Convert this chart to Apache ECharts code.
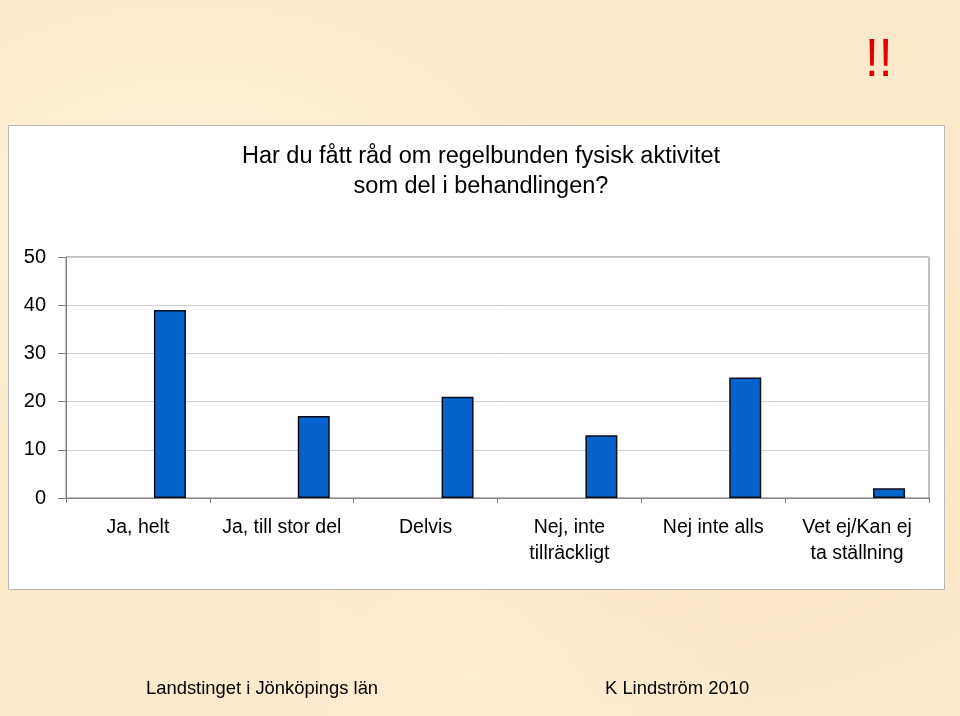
<!DOCTYPE html>
<html>
<head>
<meta charset="utf-8">
<script src="https://cdn.jsdelivr.net/npm/echarts@6/dist/echarts.min.js"></script>
<style>
html,body{margin:0;padding:0;}
body{width:960px;height:716px;background:#FBEACA;
background-image:radial-gradient(ellipse at 20% 30%, rgba(255,245,225,0.7), rgba(255,245,225,0) 40%),radial-gradient(ellipse at 70% 60%, rgba(245,222,180,0.5), rgba(245,222,180,0) 45%),radial-gradient(ellipse at 50% 90%, rgba(255,240,215,0.6), rgba(255,240,215,0) 40%);}
#c{width:960px;height:716px;}
</style>
</head>
<body>
<div id="c"></div>
<script>
const categories = ['Ja, helt', 'Ja, till stor del', 'Delvis', 'Nej, inte\ntillräckligt', 'Nej inte alls', 'Vet ej/Kan ej\nta ställning'];
const values = [39, 17, 21, 13, 25, 2];
const emptyValues = [null, null, null, null, null, null];
const yTicks = [0, 10, 20, 30, 40, 50];
const titleLines = ['Har du fått råd om regelbunden fysisk aktivitet', 'som del i behandlingen?'];
const footerLeft = 'Landstinget i Jönköpings län';
const footerRight = 'K Lindström 2010';
const marker = '!!';

const chart = echarts.init(document.getElementById('c'), null, {renderer: 'canvas'});
const font = '"Liberation Sans", Arial, sans-serif';
chart.setOption({
  backgroundColor: 'transparent',
  animation: false,
  title: {
    text: titleLines.join('\n'),
    left: 476, top: 137, textAlign: 'center',
    textStyle: {fontFamily: font, fontSize: 23.5, fontWeight: 'normal', color: '#000', lineHeight: 30}
  },
  graphic: [
    {type: 'rect', z: -10, shape: {x: 8.5, y: 125.5, width: 936, height: 464},
     style: {fill: '#fff', stroke: '#b8b8b8', lineWidth: 1}},
    {type: 'text', x: 865, y: 34, scaleX: 0.92, scaleY: 1.0, style: {text: marker, fill: '#e00000', font: '54px "Liberation Sans", Arial'}},
    {type: 'text', left: 146, top: 680, style: {text: footerLeft, fill: '#000', font: '18.4px "Liberation Sans", Arial'}},
    {type: 'text', left: 605, top: 680, style: {text: footerRight, fill: '#000', font: '18.4px "Liberation Sans", Arial'}}
  ],
  grid: {left: 66, right: 31, top: 257, bottom: 218, show: true, borderColor: '#808080', borderWidth: 1, backgroundColor: '#fff'},
  xAxis: {
    type: 'category', data: categories,
    axisLine: {lineStyle: {color: '#808080', width: 1}},
    axisTick: {show: true, length: 5, lineStyle: {color: '#808080'}},
    axisLabel: {fontFamily: font, fontSize: 19.5, color: '#000', margin: 17, lineHeight: 26, interval: 0}
  },
  yAxis: {
    type: 'value', min: 0, max: 50, interval: 10,
    axisLine: {show: true, lineStyle: {color: '#808080', width: 1}},
    axisTick: {show: true, length: 8, lineStyle: {color: '#808080'}},
    splitLine: {lineStyle: {color: '#d0d0d0', width: 1}},
    axisLabel: {fontFamily: font, fontSize: 20, color: '#000', margin: 20,
      formatter: v => yTicks.includes(v) ? String(v) : ''}
  },
  series: [
    {type: 'bar', data: emptyValues, barWidth: 32, barGap: '0%'},
    {type: 'bar', data: emptyValues, barWidth: 32, barGap: '0%'},
    {type: 'bar', data: values, barWidth: 32, barGap: '0%',
     itemStyle: {color: '#0563CC', borderColor: '#0a0a1a', borderWidth: 1.5}}
  ]
});
</script>
</body>
</html>
